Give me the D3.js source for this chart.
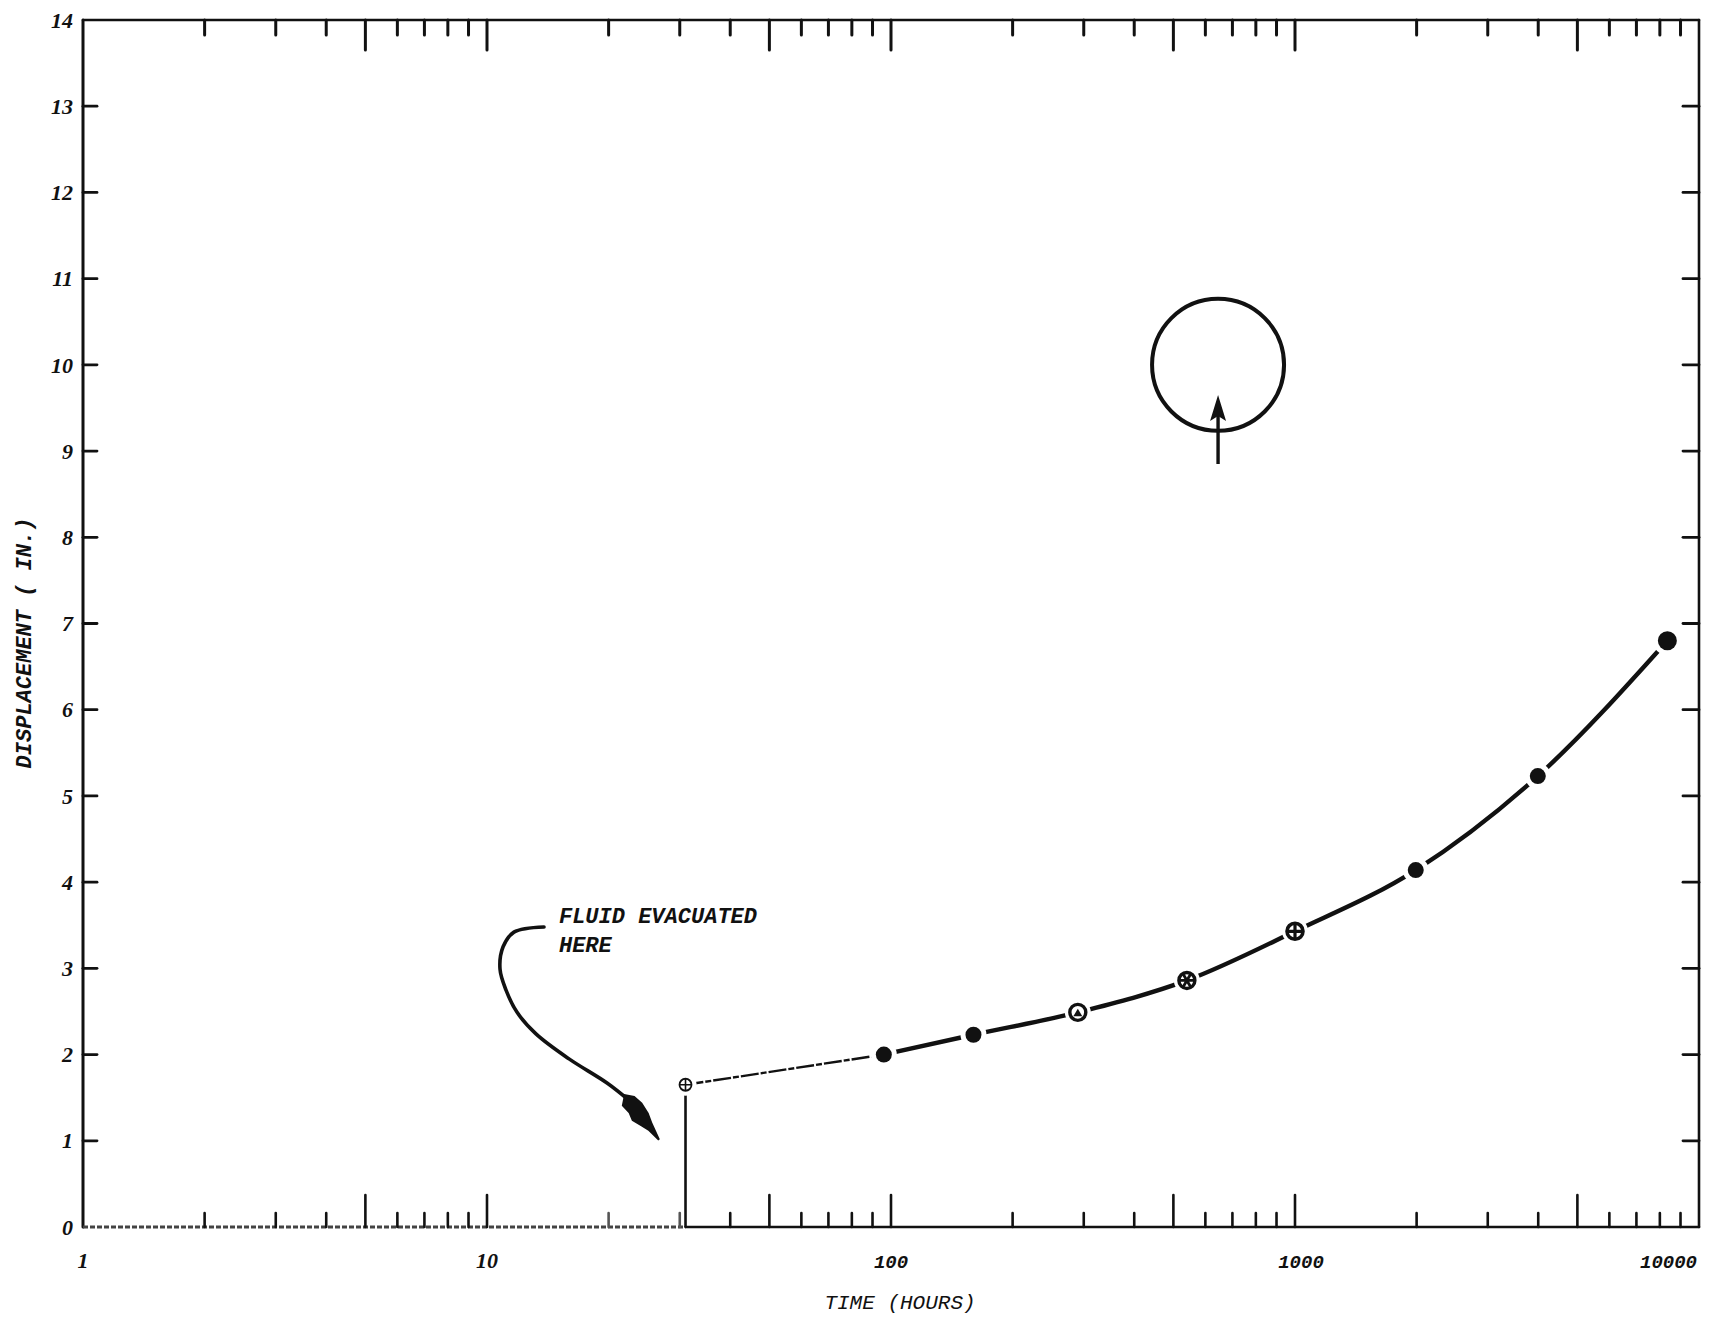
<!DOCTYPE html>
<html>
<head>
<meta charset="utf-8">
<script src="https://cdn.jsdelivr.net/npm/d3@7"></script>
<style>
  body { margin: 0; background: #fff; }
  text { fill: #111; }
</style>
</head>
<body>
<svg id="chart" width="1716" height="1319"></svg>
<script>
// data
const hours = [31, 96, 160, 290, 540, 1000, 1990, 3990, 8350];
const displacement = [1.65, 2.0, 2.23, 2.49, 2.86, 3.43, 4.14, 5.23, 6.8];
const markerKind = ['cross', 'dot', 'dot', 'triangle', 'star', 'crossDark', 'dot', 'dot', 'bigDot'];

const yTicks = d3.range(0, 15);
const xLabels = ['1', '10', '100', '1000', '10000'];
const xLabelValues = [1, 10, 100, 1000, 10000];

// annotation ("fluid evacuated here") arrow path, in hours / inches
const evacArrow = [[13.84, 3.48], [11.66, 3.42], [10.96, 3.25], [10.77, 2.99], [11.14, 2.75],
                   [11.87, 2.49], [13.22, 2.24], [15.96, 1.95], [19.82, 1.67], [22.46, 1.47]];
const evacTip = [26.66, 1.01];
const evacText = ['FLUID EVACUATED', 'HERE'];
const evacTextAt = [15.07, 3.53];

// circled arrow mark
const ringAt = [645, 10.0];
const ringArrow = [[645, 8.85], [645, 9.65]];

const W = 1716, H = 1319;
const mLeft = 83, mRight = 1699, mTop = 20, mBottom = 1227;

const svg = d3.select('#chart');

const x = d3.scaleLog().domain([1, 10000]).range([mLeft, mRight]);
const y = d3.scaleLinear().domain([0, 14]).range([mBottom, mTop]);

const ink = '#111';

// minor log ticks 2..10 per decade
const minor = [];
for (let d = 1; d < 10000; d *= 10) {
    for (let k = 2; k <= 10; k++) minor.push(d * k);
}
const isTall = v => {
    const m = v / Math.pow(10, Math.floor(Math.log10(v) + 1e-9));
    return Math.abs(m - 5) < 1e-6 || Math.abs(m - 1) < 1e-6;
};

const frame = svg.append('g').attr('stroke', ink).attr('fill', 'none').attr('stroke-linecap', 'round');

// frame lines
frame.append('line').attr('x1', mLeft).attr('x2', mLeft).attr('y1', mTop).attr('y2', mBottom).attr('stroke-width', 3);
frame.append('line').attr('x1', mRight).attr('x2', mRight).attr('y1', mTop).attr('y2', mBottom).attr('stroke-width', 2.6);
frame.append('line').attr('x1', mLeft).attr('x2', mRight).attr('y1', mTop).attr('y2', mTop).attr('stroke-width', 2.6);
// bottom axis: stippled up to the jump, solid afterwards
frame.append('line').attr('x1', mLeft).attr('x2', x(hours[0])).attr('y1', mBottom).attr('y2', mBottom)
    .attr('stroke-width', 3).attr('stroke', '#444').attr('stroke-dasharray', '5 2').attr('stroke-linecap', 'butt');
frame.append('line').attr('x1', x(hours[0])).attr('x2', mRight).attr('y1', mBottom).attr('y2', mBottom).attr('stroke-width', 2.6);

// top ticks (downward)
frame.selectAll('.ttick').data(minor.filter(v => v < 10000)).join('line')
    .attr('x1', d => x(d)).attr('x2', d => x(d))
    .attr('y1', mTop).attr('y2', d => mTop + (isTall(d) ? 30 : 15))
    .attr('stroke-width', 3);
// bottom ticks (upward)
frame.selectAll('.btick').data(minor.filter(v => v < 10000)).join('line')
    .attr('x1', d => x(d)).attr('x2', d => x(d))
    .attr('y1', mBottom).attr('y2', d => mBottom - (isTall(d) ? 32 : 14))
    .attr('stroke-width', 2.6)
    .attr('stroke', d => (d > 10 && d < 31) ? '#555' : ink);

// left / right ticks
const inner = yTicks.filter(v => v > 0 && v < 14);
frame.selectAll('.ltick').data(inner).join('line')
    .attr('x1', mLeft).attr('x2', mLeft + 14).attr('y1', d => y(d)).attr('y2', d => y(d)).attr('stroke-width', 2.8);
frame.selectAll('.rtick').data(inner).join('line')
    .attr('x1', mRight).attr('x2', mRight - 16).attr('y1', d => y(d)).attr('y2', d => y(d)).attr('stroke-width', 2.8);

// y tick labels
svg.append('g').selectAll('text').data(yTicks).join('text')
    .attr('x', mLeft - 10).attr('y', d => y(d))
    .attr('dy', '0.35em')
    .attr('text-anchor', 'end')
    .style('font', 'italic bold 22px "Liberation Serif", serif')
    .text(d => d);

// x tick labels
svg.append('g').selectAll('text').data(xLabelValues).join('text')
    .attr('x', (d, i) => i === xLabelValues.length - 1 ? mRight - 2 : x(d) + (i === 3 ? 6 : 0))
    .attr('y', mBottom + 41)
    .attr('text-anchor', (d, i) => i === xLabelValues.length - 1 ? 'end' : 'middle')
    .style('font', (d, i) => i < 2 ? 'italic bold 22px "Liberation Serif", serif' : 'italic bold 19px "Liberation Mono", monospace')
    .text((d, i) => xLabels[i]);

// axis titles
svg.append('text')
    .attr('x', 900).attr('y', mBottom + 82)
    .attr('text-anchor', 'middle')
    .style('font', 'italic 21px "Liberation Mono", monospace')
    .text('TIME (HOURS)');

svg.append('text')
    .attr('transform', `translate(31, 643) rotate(-90)`)
    .attr('text-anchor', 'middle')
    .style('font', 'italic bold 22px "Liberation Mono", monospace')
    .text('DISPLACEMENT ( IN.)');

// vertical jump at the evacuation time
svg.append('line')
    .attr('x1', x(hours[0])).attr('x2', x(hours[0]))
    .attr('y1', y(0)).attr('y2', y(displacement[0]))
    .attr('stroke', ink).attr('stroke-width', 2.6);

// data curve
const pts = hours.map((h, i) => [x(h), y(displacement[i])]);
svg.append('path')
    .attr('d', d3.line()(pts.slice(0, 2)))
    .attr('fill', 'none').attr('stroke', ink).attr('stroke-width', 2.4)
    .attr('stroke-dasharray', '18 2 6 2');
svg.append('path')
    .attr('d', d3.line().curve(d3.curveMonotoneX)(pts.slice(1)))
    .attr('fill', 'none').attr('stroke', ink).attr('stroke-width', 4.4).attr('stroke-linecap', 'round');

// markers, with white halo to break the line
const mk = svg.append('g');
hours.forEach((h, i) => {
    const cx = x(h), cy = y(displacement[i]);
    const kind = markerKind[i];
    const r = kind === 'cross' ? 6 : kind === 'bigDot' ? 9.5 : 8;
    mk.append('circle').attr('cx', cx).attr('cy', cy).attr('r', r + 5).attr('fill', '#fff');
    const g = mk.append('g').attr('transform', `translate(${cx},${cy})`);
    if (kind === 'dot' || kind === 'bigDot') {
        g.append('circle').attr('r', r).attr('fill', ink);
    } else if (kind === 'cross') {
        g.append('circle').attr('r', r).attr('fill', '#fff').attr('stroke', ink).attr('stroke-width', 1.8);
        g.append('path').attr('d', `M${-r},0H${r}M0,${-r}V${r}`).attr('stroke', ink).attr('stroke-width', 1.6);
    } else if (kind === 'crossDark') {
        g.append('circle').attr('r', r).attr('fill', '#fff').attr('stroke', ink).attr('stroke-width', 3.6);
        g.append('path').attr('d', `M${-r},0H${r}M0,${-r}V${r}`).attr('stroke', ink).attr('stroke-width', 3.2);
    } else if (kind === 'star') {
        g.append('circle').attr('r', r).attr('fill', '#fff').attr('stroke', ink).attr('stroke-width', 3.4);
        g.append('path').attr('d', `M${-r},0H${r}M-3.5,-6L3.5,6M3.5,-6L-3.5,6`).attr('stroke', ink).attr('stroke-width', 2.8);
    } else if (kind === 'triangle') {
        g.append('circle').attr('r', r).attr('fill', '#fff').attr('stroke', ink).attr('stroke-width', 3.4);
        g.append('path').attr('d', 'M0,-3.5L4.5,4H-4.5Z').attr('fill', ink);
    }
});

// "fluid evacuated here" annotation
const ann = svg.append('g');
ann.append('path')
    .attr('d', d3.line().curve(d3.curveCatmullRom)(evacArrow.map(p => [x(p[0]), y(p[1])])))
    .attr('fill', 'none').attr('stroke', ink).attr('stroke-width', 3.6).attr('stroke-linecap', 'round');
{
    const b = [x(evacArrow[evacArrow.length - 1][0]), y(evacArrow[evacArrow.length - 1][1])];
    const t = [x(evacTip[0]), y(evacTip[1])];
    const dx = t[0] - b[0], dy = t[1] - b[1], len = Math.hypot(dx, dy);
    const ux = dx / len, uy = dy / len, px = -uy, py = ux;
    const at = (s, w) => [b[0] + ux * s + px * w, b[1] + uy * s + py * w];
    const head = [at(-8, 0), at(0, 9), at(10, 8), at(18, 10), at(28, 6), at(36, 3), at(len, 1), at(len, -1),
                  at(32, -5), at(22, -8), at(10, -9), at(0, -7)];
    ann.append('path').attr('d', d3.line().curve(d3.curveLinearClosed)(head)).attr('fill', ink);
}
ann.selectAll('text').data(evacText).join('text')
    .attr('x', x(evacTextAt[0]))
    .attr('y', (d, i) => y(evacTextAt[1]) + i * 29)
    .style('font', 'italic bold 22px "Liberation Mono", monospace')
    .text(d => d);

// circled arrow
const ring = svg.append('g').attr('stroke', ink).attr('fill', 'none');
ring.append('circle').attr('cx', x(ringAt[0])).attr('cy', y(ringAt[1])).attr('r', 66).attr('stroke-width', 4);
ring.append('line')
    .attr('x1', x(ringArrow[0][0])).attr('x2', x(ringArrow[1][0]))
    .attr('y1', y(ringArrow[0][1])).attr('y2', y(ringArrow[1][1]) + 14)
    .attr('stroke-width', 3.4);
{
    const tx = x(ringArrow[1][0]), ty = y(ringArrow[1][1]);
    svg.append('path')
        .attr('d', `M${tx},${ty} L${tx + 8},${ty + 26} L${tx},${ty + 21} L${tx - 8},${ty + 26} Z`)
        .attr('fill', ink);
}
</script>
</body>
</html>
